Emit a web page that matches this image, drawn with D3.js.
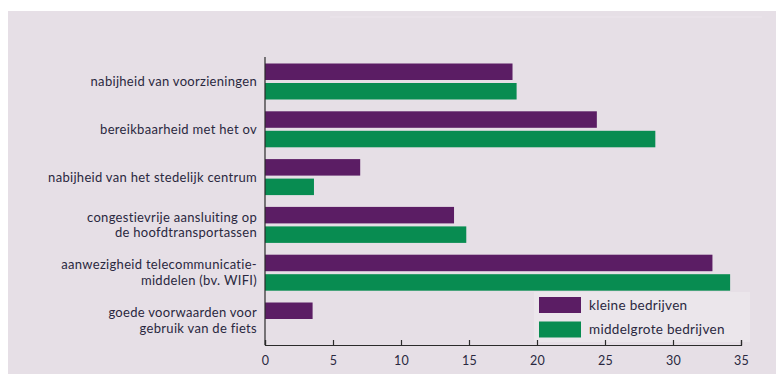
<!DOCTYPE html>
<html>
<head>
<meta charset="utf-8">
<script src="https://cdn.jsdelivr.net/npm/d3@7/dist/d3.min.js"></script>
<style>
  html, body { margin: 0; padding: 0; background: #ffffff; }
  svg { display: block; }
  text { font-family: Lato, "Open Sans", sans-serif; fill: #2a2840; letter-spacing: 0.3px; }
</style>
</head>
<body>
<svg id="chart" width="776" height="374"></svg>
<script>
// Factors, top to bottom; "\n" marks a line break in the label
const categories = [
  "nabijheid van voorzieningen",
  "bereikbaarheid met het ov",
  "nabijheid van het stedelijk centrum",
  "congestievrije aansluiting op\nde hoofdtransportassen",
  "aanwezigheid telecommunicatie-\nmiddelen (bv. WIFI)",
  "goede voorwaarden voor\ngebruik van de fiets"
];
const seriesNames = ["kleine bedrijven", "middelgrote bedrijven"];
const kleine = [18.2, 24.4, 7.0, 13.9, 32.9, 3.5];
const middelgrote = [18.5, 28.7, 3.6, 14.8, 34.2, 0];
const tickValues = [0, 5, 10, 15, 20, 25, 30, 35];
const colors = ["#5b1d64", "#088c51"];

const svg = d3.select("#chart");

// background panel
svg.append("rect")
  .attr("x", 8).attr("y", 11)
  .attr("width", 768).attr("height", 363)
  .attr("fill", "#e6dfe6");
svg.append("line")
  .attr("x1", 330).attr("x2", 762).attr("y1", 17).attr("y2", 17)
  .attr("stroke", "#ece6ec").attr("stroke-width", 1.2);

const x = d3.scaleLinear().domain([0, 35]).range([265, 741]);
const y = d3.scaleBand().domain(categories).range([57, 345])
  .paddingInner(0.247).paddingOuter(0.136);
const ySub = d3.scaleBand().domain(seriesNames).range([0, y.bandwidth()])
  .paddingInner(0.154);

const rows = categories.map((c, i) => ({
  cat: c,
  values: [
    { name: seriesNames[0], value: kleine[i], color: colors[0] },
    { name: seriesNames[1], value: middelgrote[i], color: colors[1] }
  ]
}));

// legend backdrop
svg.append("rect")
  .attr("x", 534).attr("y", 292).attr("width", 216).attr("height", 50)
  .attr("fill", "#ebe6eb");

// bars
const groups = svg.append("g").selectAll("g").data(rows).join("g")
  .attr("transform", d => `translate(0,${y(d.cat)})`);
groups.selectAll("rect").data(d => d.values.filter(v => v.value > 0)).join("rect")
  .attr("x", x(0))
  .attr("y", d => ySub(d.name))
  .attr("width", d => x(d.value) - x(0))
  .attr("height", ySub.bandwidth())
  .attr("fill", d => d.color);

// category labels, one text element per line
const lineHeight = 15.8;
const labelLines = categories.flatMap(c => {
  const parts = c.split("\n");
  return parts.map((ln, i) => ({
    text: ln,
    cy: y(c) + y.bandwidth() / 2 + (i - (parts.length - 1) / 2) * lineHeight
  }));
});
svg.append("g").selectAll("text").data(labelLines).join("text")
  .attr("text-anchor", "end")
  .attr("font-size", 13)
  .attr("x", 257)
  .attr("y", d => d.cy)
  .attr("dy", "0.35em")
  .text(d => d.text);

// value axis
const axis = d3.axisBottom(x).tickValues(tickValues).tickFormat(d3.format("d"))
  .tickSizeInner(-5).tickSizeOuter(-5).tickPadding(11);
const gx = svg.append("g").attr("transform", "translate(0,345)").call(axis);
gx.select(".domain").attr("stroke", "#2b2b2b").attr("stroke-width", 1.2);
gx.selectAll(".tick line").attr("stroke", "#2b2b2b").attr("stroke-width", 1.2);
gx.selectAll(".tick text").attr("font-size", 12.5)
  .attr("font-family", "Lato, sans-serif").attr("fill", "#3a3a4a");

// category axis line
svg.append("line")
  .attr("x1", x(0)).attr("x2", x(0)).attr("y1", 57).attr("y2", 345)
  .attr("stroke", "#2b2b2b").attr("stroke-width", 1.2);

// legend
const legend = svg.append("g").selectAll("g").data(seriesNames).join("g")
  .attr("transform", (d, i) => `translate(539,${297 + i * 24.5})`);
legend.append("rect")
  .attr("width", 42).attr("height", 16)
  .attr("fill", (d, i) => colors[i]);
legend.append("text")
  .attr("x", 50).attr("y", 8).attr("dy", "0.35em")
  .attr("font-size", 13.5)
  .text(d => d);
</script>
</body>
</html>
